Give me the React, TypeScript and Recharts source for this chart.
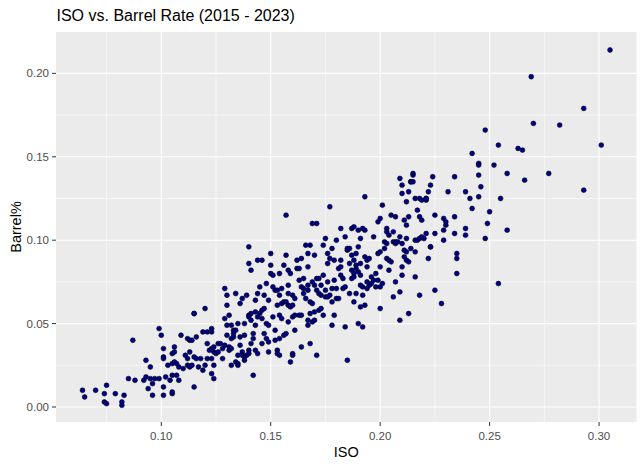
import React from 'react';
import { ScatterChart, Scatter, XAxis, YAxis, CartesianGrid, Label } from 'recharts';

const isoValues: number[] = [
  0.064, 0.065, 0.070, 0.074, 0.074, 0.075, 0.075, 0.079, 0.082, 0.082, 0.083, 0.085, 0.087, 0.088, 0.092, 0.093, 0.093, 0.094, 0.095, 0.095, 0.096, 0.096, 0.097, 0.099, 0.099,
  0.100, 0.101, 0.101, 0.101, 0.101, 0.101, 0.102, 0.103, 0.104, 0.105, 0.105, 0.105, 0.105, 0.105, 0.106, 0.106, 0.106, 0.107, 0.107, 0.108, 0.108, 0.109, 0.110, 0.111, 0.112, 0.112, 0.112, 0.113, 0.113, 0.113, 0.114, 0.114, 0.115, 0.115, 0.115, 0.115, 0.116, 0.116, 0.117, 0.118, 0.119, 0.119, 0.120, 0.120, 0.121, 0.121, 0.121, 0.122, 0.123, 0.123, 0.123, 0.123, 0.123, 0.124, 0.124, 0.124, 0.124, 0.125, 0.126, 0.126, 0.127, 0.128, 0.128,
  0.129, 0.129, 0.129, 0.130, 0.130, 0.130, 0.130, 0.131, 0.131, 0.131, 0.132, 0.132, 0.132, 0.132, 0.133, 0.133, 0.133, 0.134, 0.134, 0.134, 0.135, 0.135, 0.135, 0.135, 0.136, 0.136, 0.136, 0.137, 0.137, 0.137, 0.138, 0.138, 0.138, 0.138, 0.139, 0.139, 0.140, 0.140, 0.140, 0.140, 0.140, 0.140, 0.141, 0.141, 0.141, 0.141, 0.142, 0.142, 0.142, 0.143, 0.143, 0.143, 0.143, 0.144, 0.144, 0.144, 0.144, 0.145, 0.145, 0.146, 0.146, 0.146, 0.146, 0.147, 0.147, 0.147, 0.148, 0.148, 0.148, 0.149, 0.149, 0.149, 0.149,
  0.150, 0.150, 0.150, 0.151, 0.151, 0.151, 0.152, 0.152, 0.152, 0.153, 0.153, 0.153, 0.153, 0.154, 0.154, 0.154, 0.154, 0.154, 0.155, 0.155, 0.155, 0.156, 0.156, 0.156, 0.157, 0.157, 0.157, 0.157, 0.158, 0.158, 0.158, 0.158, 0.158, 0.159, 0.159, 0.159, 0.160, 0.160, 0.160, 0.160, 0.160, 0.161, 0.161, 0.161, 0.162, 0.162, 0.163, 0.163, 0.163, 0.164, 0.164, 0.164, 0.164, 0.165, 0.165, 0.165, 0.166, 0.166, 0.167, 0.167, 0.167, 0.167, 0.167, 0.167, 0.168, 0.168, 0.168, 0.168, 0.169, 0.169, 0.169, 0.169, 0.170, 0.170, 0.170, 0.170, 0.171, 0.171, 0.171, 0.171, 0.172, 0.172, 0.172, 0.173, 0.173, 0.173, 0.174, 0.174, 0.174, 0.175, 0.175,
  0.175, 0.176, 0.176, 0.176, 0.176, 0.177, 0.177, 0.177, 0.178, 0.178, 0.178, 0.178, 0.179, 0.179, 0.179, 0.180, 0.180, 0.180, 0.181, 0.181, 0.182, 0.182, 0.182, 0.182, 0.183, 0.183, 0.184, 0.184, 0.184, 0.185, 0.185, 0.185, 0.186, 0.186, 0.186, 0.187, 0.187, 0.187, 0.187, 0.188, 0.188, 0.188, 0.188, 0.188, 0.189, 0.189, 0.189, 0.189, 0.190, 0.190, 0.190, 0.190, 0.191, 0.191, 0.191, 0.191, 0.191, 0.192, 0.192, 0.192, 0.192, 0.193, 0.193, 0.193, 0.193, 0.194, 0.194, 0.194, 0.194, 0.195, 0.195, 0.196, 0.196, 0.197, 0.197, 0.198, 0.198, 0.199, 0.199, 0.199, 0.200, 0.200,
  0.200, 0.200, 0.200, 0.201, 0.201, 0.202, 0.202, 0.203, 0.203, 0.203, 0.203, 0.204, 0.204, 0.204, 0.205, 0.205, 0.206, 0.206, 0.206, 0.207, 0.207, 0.207, 0.207, 0.208, 0.209, 0.209, 0.209, 0.209, 0.210, 0.210, 0.210, 0.210, 0.210, 0.211, 0.211, 0.211, 0.212, 0.212, 0.212, 0.212, 0.212, 0.213, 0.213, 0.213, 0.213, 0.214, 0.214, 0.214, 0.215, 0.215, 0.215, 0.216, 0.216, 0.216, 0.216, 0.217, 0.217, 0.218, 0.218, 0.218, 0.218, 0.219, 0.219, 0.219, 0.220, 0.221, 0.221, 0.221, 0.221, 0.222, 0.222, 0.223, 0.223, 0.223, 0.224, 0.225,
  0.225, 0.225, 0.228, 0.229, 0.229, 0.229, 0.230, 0.230, 0.231, 0.234, 0.234, 0.234, 0.235, 0.235, 0.235, 0.239, 0.239, 0.239, 0.241, 0.242, 0.242, 0.245, 0.245, 0.245, 0.245, 0.246, 0.248, 0.248, 0.249, 0.250, 0.252, 0.254, 0.254, 0.255, 0.258, 0.258, 0.263, 0.265, 0.266, 0.269, 0.270, 0.277, 0.282, 0.293, 0.293, 0.301, 0.305,
];

const barrelValues: number[] = [
  0.010, 0.006, 0.010, 0.008, 0.003, 0.002, 0.013, 0.008, 0.003, 0.001, 0.007, 0.017, 0.040, 0.016, 0.016, 0.028, 0.018, 0.011, 0.024, 0.017, 0.014, 0.007, 0.017, 0.047, 0.017,
  0.043, 0.035, 0.030, 0.029, 0.012, 0.007, 0.018, 0.025, 0.016, 0.008, 0.019, 0.032, 0.026, 0.009, 0.033, 0.036, 0.027, 0.019, 0.026, 0.024, 0.016, 0.043, 0.023, 0.031, 0.041, 0.025, 0.029, 0.024, 0.040, 0.033, 0.025, 0.040, 0.012, 0.056, 0.056, 0.030, 0.042, 0.029, 0.024, 0.029, 0.045, 0.022, 0.025, 0.059, 0.038, 0.045, 0.029, 0.034, 0.035, 0.047, 0.045, 0.029, 0.020, 0.017, 0.033, 0.025, 0.036, 0.032, 0.038, 0.033, 0.038, 0.035, 0.029,
  0.037, 0.071, 0.053, 0.067, 0.061, 0.049, 0.043, 0.036, 0.034, 0.055, 0.035, 0.025, 0.049, 0.041, 0.046, 0.042, 0.044, 0.068, 0.027, 0.046, 0.031, 0.050, 0.026, 0.025, 0.042, 0.037, 0.062, 0.065, 0.033, 0.031, 0.030, 0.043, 0.050, 0.028, 0.067, 0.031, 0.034, 0.055, 0.096, 0.086, 0.032, 0.054, 0.038, 0.052, 0.082, 0.056, 0.044, 0.041, 0.019, 0.057, 0.064, 0.049, 0.034, 0.088, 0.032, 0.068, 0.054, 0.056, 0.072, 0.038, 0.058, 0.088, 0.053, 0.044, 0.067, 0.059, 0.074, 0.041, 0.050, 0.049, 0.039, 0.033, 0.064,
  0.092, 0.085, 0.080, 0.079, 0.072, 0.054, 0.070, 0.046, 0.040, 0.061, 0.034, 0.070, 0.032, 0.080, 0.067, 0.031, 0.055, 0.041, 0.053, 0.062, 0.071, 0.043, 0.063, 0.085, 0.063, 0.091, 0.044, 0.115, 0.068, 0.051, 0.082, 0.061, 0.073, 0.027, 0.060, 0.080, 0.067, 0.032, 0.031, 0.061, 0.054, 0.046, 0.065, 0.055, 0.088, 0.083, 0.055, 0.076, 0.083, 0.072, 0.089, 0.036, 0.055, 0.071, 0.077, 0.068, 0.097, 0.065, 0.092, 0.052, 0.084, 0.070, 0.049, 0.073, 0.038, 0.056, 0.063, 0.097, 0.075, 0.051, 0.110, 0.062, 0.073, 0.052, 0.057, 0.091, 0.110, 0.031, 0.070, 0.077, 0.058, 0.068, 0.077, 0.059, 0.073, 0.067, 0.097, 0.079, 0.055, 0.070, 0.066,
  0.101, 0.086, 0.092, 0.075, 0.066, 0.089, 0.120, 0.067, 0.095, 0.063, 0.071, 0.049, 0.088, 0.055, 0.076, 0.071, 0.100, 0.065, 0.083, 0.065, 0.079, 0.107, 0.084, 0.088, 0.071, 0.077, 0.102, 0.072, 0.048, 0.094, 0.028, 0.095, 0.086, 0.068, 0.095, 0.091, 0.082, 0.077, 0.107, 0.063, 0.080, 0.088, 0.108, 0.078, 0.085, 0.083, 0.092, 0.068, 0.050, 0.096, 0.081, 0.106, 0.086, 0.079, 0.073, 0.101, 0.060, 0.067, 0.072, 0.107, 0.048, 0.061, 0.090, 0.126, 0.106, 0.075, 0.088, 0.071, 0.084, 0.073, 0.089, 0.074, 0.078, 0.102, 0.076, 0.072, 0.080, 0.092, 0.111, 0.076, 0.084, 0.113,
  0.059, 0.072, 0.093, 0.074, 0.121, 0.095, 0.099, 0.107, 0.098, 0.105, 0.089, 0.088, 0.103, 0.082, 0.087, 0.115, 0.105, 0.066, 0.099, 0.114, 0.098, 0.075, 0.099, 0.099, 0.102, 0.069, 0.052, 0.137, 0.098, 0.084, 0.079, 0.133, 0.128, 0.112, 0.094, 0.090, 0.093, 0.123, 0.109, 0.088, 0.101, 0.056, 0.087, 0.114, 0.129, 0.095, 0.135, 0.135, 0.139, 0.140, 0.135, 0.125, 0.093, 0.078, 0.100, 0.118, 0.100, 0.114, 0.067, 0.101, 0.125, 0.102, 0.124, 0.112, 0.101, 0.125, 0.124, 0.104, 0.125, 0.089, 0.129, 0.096, 0.096, 0.133, 0.138, 0.115,
  0.104, 0.070, 0.062, 0.100, 0.106, 0.113, 0.109, 0.111, 0.129, 0.104, 0.138, 0.114, 0.089, 0.080, 0.092, 0.129, 0.107, 0.103, 0.125, 0.152, 0.119, 0.146, 0.145, 0.126, 0.139, 0.132, 0.166, 0.101, 0.110, 0.117, 0.145, 0.074, 0.157, 0.125, 0.140, 0.106, 0.155, 0.154, 0.136, 0.198, 0.170, 0.140, 0.169, 0.179, 0.130, 0.157, 0.214,
];

const xTicks = [0.1, 0.15, 0.2, 0.25, 0.3];
const yTicks = [0, 0.05, 0.1, 0.15, 0.2];
const xMinor = [0.075, 0.125, 0.175, 0.225, 0.275];
const yMinor = [0.025, 0.075, 0.125, 0.175];

const xDomain: [number, number] = [0.0519, 0.3171];
const yDomain: [number, number] = [-0.009, 0.2248];

const data = isoValues.map((iso, i) => ({ iso, barrel: barrelValues[i] }));

const FONT = '"Liberation Sans", Arial, sans-serif';

const Dot = (props: any) => {
  const { cx, cy } = props;
  if (cx == null || cy == null) return null;
  return <circle cx={cx} cy={cy} r={2.45} fill="#00008B" stroke="#000000" strokeWidth={0.55} />;
};

export default function App() {
  return (
    <div style={{ position: 'absolute', left: 0, top: 0, width: 644, height: 467, background: '#FFFFFF', fontFamily: FONT }}>
      <div
        style={{
          position: 'absolute',
          left: 56.5,
          top: 7,
          fontSize: 16,
          lineHeight: 'normal',
          color: '#000000',
          fontFamily: FONT,
          whiteSpace: 'nowrap',
        }}
      >
        ISO vs. Barrel Rate (2015 - 2023)
      </div>
      <ScatterChart width={644} height={467} margin={{ top: 32, right: 7.5, bottom: 0, left: 0 }}>
        <CartesianGrid
          fill="#EBEBEB"
          stroke="#FFFFFF"
          strokeWidth={0.55}
          horizontalValues={yMinor}
          verticalValues={xMinor}
        />
        <CartesianGrid
          stroke="#FFFFFF"
          strokeWidth={1.1}
          horizontalValues={yTicks}
          verticalValues={xTicks}
        />
        <XAxis
          type="number"
          dataKey="iso"
          domain={xDomain}
          allowDataOverflow
          ticks={xTicks}
          tickFormatter={(v: number) => v.toFixed(2)}
          axisLine={false}
          tickLine={{ stroke: '#333333', strokeWidth: 1 }}
          tickSize={4}
          tickMargin={5.5}
          height={45}
          tick={{ fill: '#4D4D4D', fontSize: 11.5, fontFamily: FONT }}
        >
          <Label
            value="ISO"
            position="insideBottom"
            offset={10}
            style={{ fill: '#000000', fontSize: 14.5, fontFamily: FONT, textAnchor: 'middle' }}
          />
        </XAxis>
        <YAxis
          type="number"
          dataKey="barrel"
          domain={yDomain}
          allowDataOverflow
          ticks={yTicks}
          tickFormatter={(v: number) => v.toFixed(2)}
          axisLine={false}
          tickLine={{ stroke: '#333333', strokeWidth: 1 }}
          tickSize={4}
          tickMargin={3}
          width={56}
          tick={{ fill: '#4D4D4D', fontSize: 11.5, fontFamily: FONT }}
        >
          <Label
            value="Barrel%"
            angle={-90}
            position="insideLeft"
            offset={15.5}
            style={{ fill: '#000000', fontSize: 14.5, fontFamily: FONT, textAnchor: 'middle' }}
          />
        </YAxis>
        <Scatter data={data} shape={<Dot />} isAnimationActive={false} />
      </ScatterChart>
    </div>
  );
}
